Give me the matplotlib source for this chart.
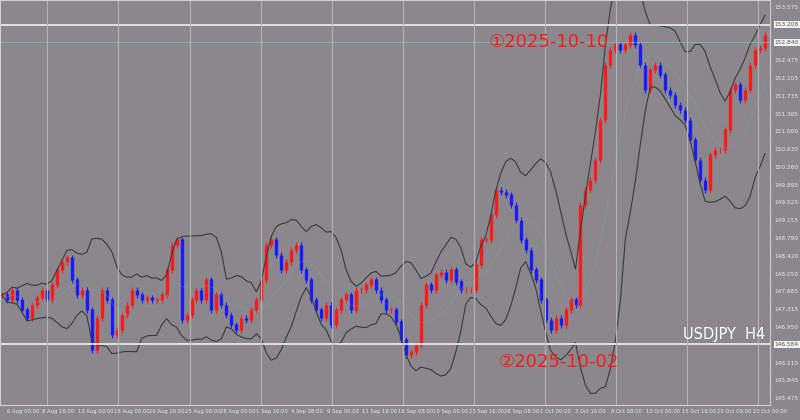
import numpy as np
import matplotlib
matplotlib.use("Agg")
import matplotlib.pyplot as plt

closes = [147.61,147.51,147.71,147.51,147.30,147.13,147.40,147.55,147.71,147.51,147.82,148.13,148.29,148.38,147.92,147.61,147.71,147.30,146.47,147.13,147.71,147.51,146.78,146.88,147.19,147.40,147.71,147.61,147.51,147.55,147.51,147.51,147.61,148.13,148.64,148.75,147.09,147.19,147.51,147.71,147.51,147.92,147.30,147.61,147.40,147.19,146.99,146.88,147.13,147.09,147.30,147.51,147.92,148.64,148.75,148.43,148.13,148.29,148.54,148.64,148.13,147.92,147.51,147.30,147.13,147.40,146.99,147.30,147.51,147.61,147.30,147.71,147.71,147.82,147.92,147.71,147.51,147.30,147.30,147.05,146.68,146.37,146.43,146.57,147.40,147.82,147.71,148.03,148.08,147.92,148.13,147.88,147.71,147.71,147.71,148.23,148.75,148.75,149.27,149.78,149.74,149.68,149.47,149.16,148.75,148.54,148.13,147.92,147.51,147.09,146.88,147.13,146.99,147.30,147.51,147.40,149.47,149.78,149.99,150.40,151.23,152.37,152.68,152.79,152.68,152.79,152.99,152.79,152.37,151.85,152.27,152.37,152.17,151.85,151.75,151.54,151.44,151.23,150.82,150.40,149.99,149.78,150.51,150.61,150.61,151.03,151.85,151.96,151.65,151.85,152.37,152.68,152.72,152.99]
date_labels = ["6 Aug 00:00","8 Aug 16:00","13 Aug 00:00","18 Aug 00:00","20 Aug 16:00","25 Aug 08:00","28 Aug 00:00","1 Sep 16:00","4 Sep 08:00","9 Sep 00:00","11 Sep 16:00","16 Sep 08:00","19 Sep 00:00","23 Sep 16:00","26 Sep 08:00","1 Oct 00:00","3 Oct 16:00","8 Oct 08:00","13 Oct 00:00","15 Oct 16:00","20 Oct 08:00","23 Oct 00:00"]
price_ticks = [153.575,152.475,152.105,151.735,151.365,151.000,150.630,150.260,149.895,149.525,149.155,148.790,148.420,148.050,147.685,147.315,146.950,146.210,145.845,145.475]
level_hi = 153.208
level_lo = 146.584
level_cur = 152.840

bg = "#8a888c"
fig = plt.figure(figsize=(8, 4.2), dpi=100, facecolor=bg)
ax = fig.add_axes([0, 15/420, 770/800, 405/420], facecolor=bg)
c = np.array(closes)
n = len(c)
step = 5.0
x = np.arange(n) * step
o = np.r_[c[0], c[:-1]]
for i in range(n):
    up = c[i] >= o[i]
    col = "#ff1a1a" if up else "#1a1aff"
    lo, hi = min(o[i], c[i]), max(o[i], c[i])
    ax.vlines(x[i], lo - 0.06, hi + 0.06, color=col, lw=0.8)
    ax.vlines(x[i], lo, hi + 0.01, color=col, lw=2.4)

per = 10
ma = np.array([c[max(0, i-per+1):i+1].mean() for i in range(n)])
sd = np.array([c[max(0, i-per+1):i+1].std() for i in range(n)])
ax.plot(x, ma + 2*sd, color="#3a3a3a", lw=0.8)
ax.plot(x, ma - 2*sd, color="#3a3a3a", lw=0.8)
ax.plot(x, ma, color="#8fb5b0", lw=0.5, alpha=0.35)

ax.axhline(level_hi, color="#f0f0f0", lw=1.2)
ax.axhline(level_lo, color="#f0f0f0", lw=1.2)
ax.axhline(level_cur, color="#7fc0b8", lw=0.5)

tick_x = [5 + k*35.6 for k in range(len(date_labels))]
for k, tx in enumerate(tick_x):
    if k % 2 == 1:
        ax.axvline(tx + 5, color="#b4b4b4", lw=0.8)
ax.set_xlim(-2, 770)
ax.set_ylim(145.33, 153.718)
ax.set_xticks(tick_x)
ax.set_xticklabels(date_labels, fontsize=3.8, color="#e8e8e8", ha="left")
ax.yaxis.tick_right()
ax.set_yticks(price_ticks)
ax.set_yticklabels([f"{v:.3f}" for v in price_ticks], fontsize=4.2, color="#e8e8e8")
ax.tick_params(length=0, pad=3)
for s in ax.spines.values():
    s.set_color("#d0d0d0"); s.set_linewidth(0.8)
for lv in (level_hi, level_cur, level_lo):
    ax.text(1.006, lv, f"{lv:.3f}", transform=ax.get_yaxis_transform(), fontsize=4.2,
            va="center", ha="left", color="#555", bbox=dict(fc="#f0f0f0", ec="none", pad=0.6))

ax.text(488, level_cur, "①2025-10-10", color="#ff1a1a", fontsize=13, va="center", ha="left")
ax.text(498, 146.22, "②2025-10-02", color="#ff1a1a", fontsize=13, va="center", ha="left")
ax.text(765, 146.80, "USDJPY  H4", color="#ffffff", fontsize=10.5, va="center", ha="right")
fig.savefig("out.png", dpi=100, facecolor=bg)
